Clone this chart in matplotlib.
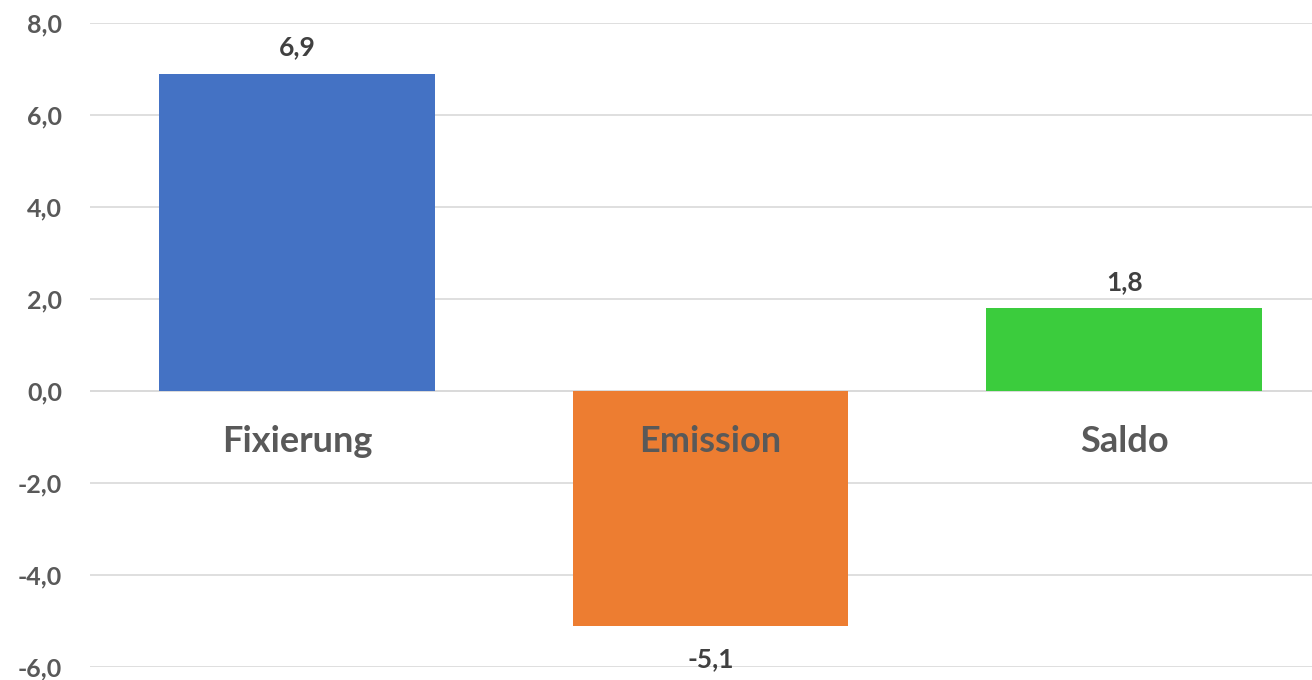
import matplotlib.pyplot as plt
from matplotlib.ticker import FuncFormatter

categories = ["Fixierung", "Emission", "Saldo"]
values = [6.9, -5.1, 1.8]
colors = ["#4472C4", "#ED7D31", "#3BCC3D"]
yticks = [-6, -4, -2, 0, 2, 4, 6, 8]

TEXT = "#595959"
plt.rcParams["font.family"] = ["Lato", "DejaVu Sans"]
plt.rcParams["font.weight"] = "bold"


def de_format(v, pos=None):
    # decimal comma
    return f"{v:.1f}".replace(".", ",")


fig = plt.figure(figsize=(13.12, 6.8), dpi=100)
# plot area runs past the right edge a little
ax = fig.add_axes([90 / 1312, 13 / 680, 1241 / 1312, 644 / 680])

x = range(len(categories))
bars = ax.bar(x, values, width=0.667, color=colors, zorder=2)

ax.set_xlim(-0.5, 2.5)
ax.set_ylim(-6, 8)
ax.set_yticks(yticks)
ax.yaxis.set_major_formatter(FuncFormatter(de_format))
ax.grid(axis="y", color="#D9D9D9", linewidth=1.2, zorder=0)
ax.axhline(0, color="#D9D9D9", linewidth=1.2, zorder=1)
ax.set_xticks([])
for s in ax.spines.values():
    s.set_visible(False)
ax.tick_params(axis="y", length=0, pad=20, labelsize=18, labelcolor=TEXT)
for lab in ax.get_yticklabels():
    lab.set_fontweight("bold")

for i, (b, v) in enumerate(zip(bars, values)):
    off = 19 if v >= 0 else -24
    ax.annotate(de_format(v), (i, v), xytext=(0, off), textcoords="offset points",
                ha="center", va="center", fontsize=19, fontweight="bold", color="#404040")
    ax.annotate(categories[i], (i, 0), xytext=(0, -36), textcoords="offset points",
                ha="center", va="center", fontsize=26, fontweight="bold", color=TEXT, zorder=3)

fig.savefig("out.png", dpi=100)
plt.close(fig)
